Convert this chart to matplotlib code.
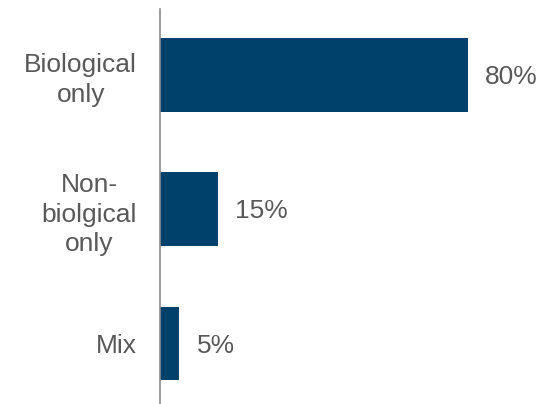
import matplotlib.pyplot as plt

plt.rcParams['font.family'] = ['Liberation Sans', 'DejaVu Sans']

# Data
categories = ["Biological\nonly", "Non-\nbiolgical\nonly", "Mix"]
shares = [80, 15, 5]
value_labels = ["80%", "15%", "5%"]

bar_color = "#00416B"
text_color = "#595959"

W, H = 552, 404
fig = plt.figure(figsize=(W / 100, H / 100), dpi=100)
ax = fig.add_axes([160 / W, 0, 385 / W, 395 / H])

y = list(range(len(categories)))
bars = ax.barh(y, shares, height=0.55, color=bar_color)

ax.set_xlim(0, 100)
ax.set_ylim(2.45, -0.49)

for b, lab in zip(bars, value_labels):
    ax.annotate(lab, (b.get_width(), b.get_y() + b.get_height() / 2),
                xytext=(12.5, -1.5), textcoords="offset points",
                ha="left", va="center", fontsize=19, color=text_color)

ax.set_yticks(y)
ax.set_yticklabels(categories, fontsize=19, color=text_color,
                   multialignment="center", linespacing=1.3)
ax.tick_params(axis="y", length=0, pad=16.5)
ax.set_xticks([])

for side in ["top", "right", "bottom"]:
    ax.spines[side].set_visible(False)
ax.spines["left"].set_color("#8c8c8c")
ax.spines["left"].set_linewidth(1.2)

plt.savefig("out.png", dpi=100)
plt.close()
